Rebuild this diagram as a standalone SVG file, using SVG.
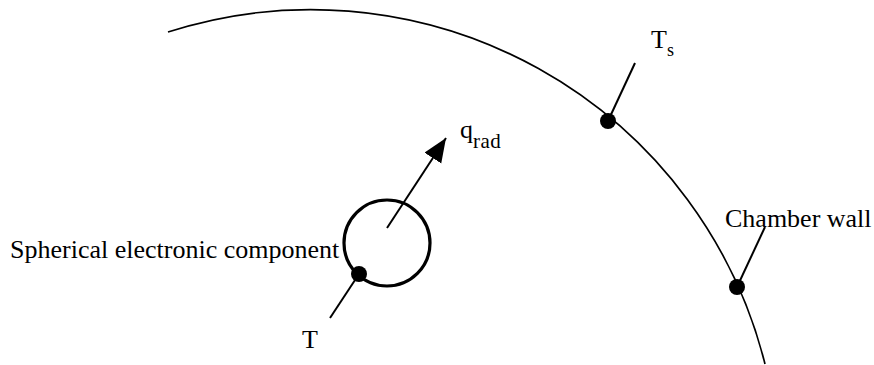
<svg xmlns="http://www.w3.org/2000/svg" width="874" height="365" viewBox="0 0 874 365">
<defs>
<style>
.t{font-family:"Liberation Serif","Times New Roman",serif;fill:#000}
.ln{stroke:#000;stroke-width:2;fill:none}
.dot{fill:#000}
</style>
<marker id="ah" markerUnits="userSpaceOnUse" markerWidth="26" markerHeight="22" refX="24" refY="10" orient="auto">
<polygon points="0,0 24,10 0,20" fill="#000"/>
</marker>
</defs>
<rect width="874" height="365" fill="#fff"/>
<g id="chamber-wall">
<path d="M168,32 A468,468 0 0 1 765,364" fill="none" stroke="#000" stroke-width="1.7"/>
<circle class="dot" cx="608" cy="121" r="8"/>
<circle class="dot" cx="737" cy="287" r="8"/>
<text class="t" x="725" y="227" font-size="26">Chamber wall</text>
</g>
<g id="component">
<circle cx="387" cy="243" r="43" fill="none" stroke="#000" stroke-width="3.2"/>
<circle class="dot" cx="359" cy="274" r="8"/>
<text class="t" x="10" y="258" font-size="26">Spherical electronic component</text>
</g>
<g id="label-T">
<text class="t" x="302" y="348" font-size="26">T</text>
</g>
<g id="label-Ts">
<text class="t" x="651" y="48" font-size="26">T</text>
<text class="t" x="667" y="56" font-size="18">s</text>
</g>
<g id="label-qrad">
<text class="t" x="460" y="138" font-size="26">q</text>
<text class="t" x="473" y="148" font-size="21" letter-spacing="0.5">rad</text>
</g>
<g id="connectors">
<line class="ln" x1="387" y1="228" x2="446" y2="138" marker-end="url(#ah)"/>
<line class="ln" x1="359" y1="274" x2="330" y2="318"/>
<line class="ln" x1="608" y1="121" x2="635" y2="63"/>
<line class="ln" x1="737" y1="287" x2="765" y2="227"/>
</g>
</svg>
